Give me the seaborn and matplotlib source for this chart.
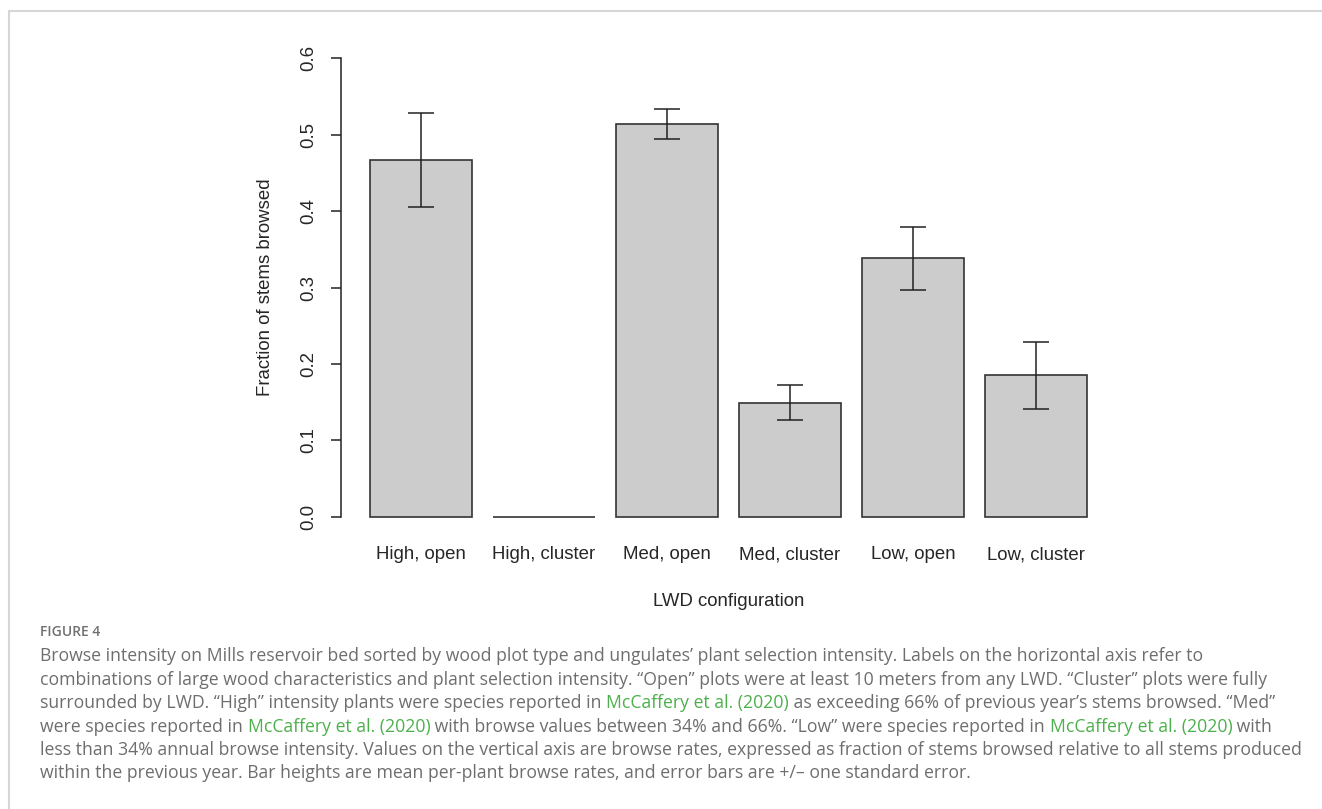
import numpy as np
import pandas as pd
import seaborn as sns
import matplotlib.pyplot as plt
from matplotlib.lines import Line2D
from matplotlib.ticker import FormatStrFormatter

categories = ["High, open", "High, cluster", "Med, open", "Med, cluster", "Low, open", "Low, cluster"]
means = [0.467, 0.0, 0.514, 0.149, 0.338, 0.185]
se = [0.062, 0.0, 0.020, 0.023, 0.041, 0.0435]
yticks = [0.0, 0.1, 0.2, 0.3, 0.4, 0.5, 0.6]

green = "#4cb04c"
grey_txt = "#6e6e6e"
ref = "McCaffery et al. (2020)"
caption = [
    [("Browse intensity on Mills reservoir bed sorted by wood plot type and ungulates\u2019 plant selection intensity. Labels on the horizontal axis refer to", grey_txt)],
    [("combinations of large wood characteristics and plant selection intensity. \u201cOpen\u201d plots were at least 10 meters from any LWD. \u201cCluster\u201d plots were fully", grey_txt)],
    [("surrounded by LWD. \u201cHigh\u201d intensity plants were species reported in ", grey_txt), (ref, green),
     (" as exceeding 66% of previous year\u2019s stems browsed. \u201cMed\u201d", grey_txt)],
    [("were species reported in ", grey_txt), (ref, green),
     (" with browse values between 34% and 66%. \u201cLow\u201d were species reported in ", grey_txt), (ref, green), (" with", grey_txt)],
    [("less than 34% annual browse intensity. Values on the vertical axis are browse rates, expressed as fraction of stems browsed relative to all stems produced", grey_txt)],
    [("within the previous year. Bar heights are mean per-plant browse rates, and error bars are +/\u2013 one standard error.", grey_txt)],
]

df = pd.DataFrame({"config": categories, "frac": means, "se": se})

sns.set_style("white")
plt.rcParams['font.family'] = ['Liberation Sans', 'DejaVu Sans']

W, H = 1322, 809
fig = plt.figure(figsize=(W / 100, H / 100), dpi=100)
ax = fig.add_axes([341 / W, 1 - 535 / H, 775 / W, 495 / H])

sns.barplot(data=df, x="config", y="frac", color="#cccccc", edgecolor="#333333",
            linewidth=1.2, width=1 / 1.2, errorbar=None, saturation=1, ax=ax)

# error bars (+/- one SE), skip the empty group
m = df["se"] > 0
xpos = np.arange(len(df))[m.values]
ax.errorbar(xpos, df["frac"][m], yerr=df["se"][m], fmt="none", ecolor="#222222",
            elinewidth=1.1, capsize=9.4, capthick=1.1)

ax.set_xlim(-0.65, 5.65)
ax.set_ylim(-0.024, 0.624)
for s in ["top", "right", "bottom"]:
    ax.spines[s].set_visible(False)
ax.spines["left"].set_bounds(0, 0.6)
ax.spines["left"].set_color("#222222")
ax.spines["left"].set_linewidth(1.1)

ax.set_yticks(yticks)
ax.yaxis.set_major_formatter(FormatStrFormatter("%.1f"))
ax.tick_params(axis="y", length=7.2, width=1.1, color="#222222", pad=10,
               labelsize=13.4, labelrotation=90, left=True)
for lab in ax.get_yticklabels():
    lab.set_va("center")
ax.tick_params(axis="x", length=0, pad=8, labelsize=13.4)

ax.set_xlabel("LWD configuration", fontsize=13.4)
ax.xaxis.set_label_coords(0.5, -0.118)
ax.set_ylabel("Fraction of stems browsed", fontsize=13.4)
ax.yaxis.set_label_coords(-0.087, 0.5)

# frame around the figure panel
fig.add_artist(Line2D([9 / W, 1], [1 - 11 / H, 1 - 11 / H], color="#d6d6d6", lw=1.5))
fig.add_artist(Line2D([9 / W, 9 / W], [1 - 11 / H, 0], color="#d6d6d6", lw=1.5))

# caption
fig.text(40 / W, 1 - 632 / H, "FIGURE 4", fontsize=10, fontweight="semibold",
         color="#707070", family="Open Sans", va="center")
renderer = fig.canvas.get_renderer()

# pick caption size so the longest line spans the same width as in the figure
probe = fig.text(0, 0, caption[4][0][0], fontsize=10, family="Open Sans")
wid = probe.get_window_extent(renderer).width
probe.remove()
cap_size = 10 * (1302 - 40) / wid

line_y = [656, 680, 703, 727, 750, 773]
for yy, pieces in zip(line_y, caption):
    x = 40 / W
    for txt, col in pieces:
        t = fig.text(x, 1 - yy / H, txt, fontsize=cap_size, color=col, family="Open Sans", va="center")
        bb = t.get_window_extent(renderer)
        x = bb.x1 / W

fig.savefig("out.png", dpi=100)
